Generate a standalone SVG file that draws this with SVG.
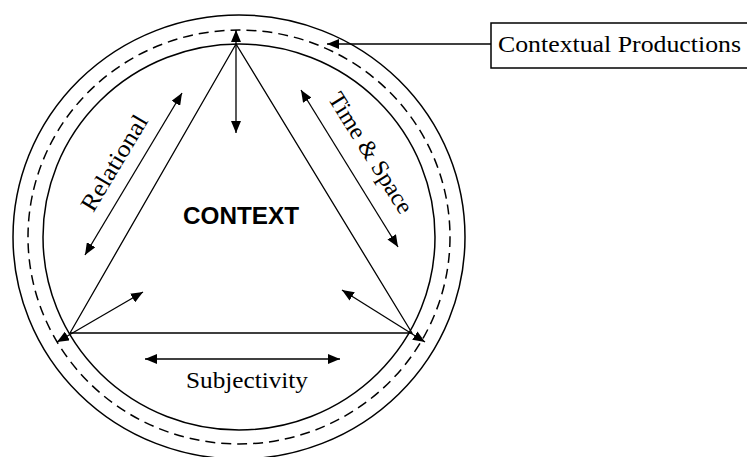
<svg xmlns="http://www.w3.org/2000/svg" width="747" height="457" viewBox="0 0 747 457">
<defs>
<marker id="ah" viewBox="0 0 12 10" refX="12" refY="5" markerWidth="12" markerHeight="10" markerUnits="userSpaceOnUse" orient="auto-start-reverse">
<path d="M0,0 L12,5 L0,10 Z" fill="#000"/>
</marker>
</defs>
<style>
.ring{fill:none;stroke:#000;stroke-width:1.5}
.dash{fill:none;stroke:#000;stroke-width:1.5;stroke-dasharray:10 6}
.ln{fill:none;stroke:#000;stroke-width:1.3}
.ar{fill:none;stroke:#000;stroke-width:1.3;marker-start:url(#ah);marker-end:url(#ah)}
.lbl{font-family:"Liberation Serif","Times New Roman",serif;font-size:24px;fill:#000}
.big{font-family:"Liberation Sans",Arial,sans-serif;font-weight:bold;font-size:23px;fill:#000}
</style>
<rect width="747" height="457" fill="#fff"/>
<g id="rings">
<ellipse class="ring" cx="239" cy="237" rx="226" ry="222"/>
<ellipse class="dash" cx="239" cy="237" rx="211" ry="207"/>
<ellipse class="ring" cx="239" cy="237" rx="196" ry="193"/>
</g>
<g id="triangle">
<polygon class="ln" points="236,44 70,333 412,333"/>
</g>
<g id="connectors">
<line class="ar" x1="236" y1="30" x2="236" y2="133"/>
<line class="ar" x1="57" y1="342" x2="143" y2="292"/>
<line class="ar" x1="425" y1="342" x2="342" y2="290"/>
<line class="ar" x1="85" y1="255" x2="182" y2="93"/>
<line class="ar" x1="301" y1="90" x2="398" y2="247"/>
<line class="ar" x1="145" y1="359" x2="340" y2="359"/>
<line class="ln" x1="491" y1="44" x2="327" y2="44" marker-end="url(#ah)"/>
</g>
<g id="context">
<text class="big" x="241" y="224" text-anchor="middle" textLength="116" lengthAdjust="spacingAndGlyphs">CONTEXT</text>
</g>
<g id="relational">
<text class="lbl" transform="translate(121,167) rotate(-59)" text-anchor="middle" textLength="108" lengthAdjust="spacingAndGlyphs">Relational</text>
</g>
<g id="timespace">
<text class="lbl" transform="translate(364,157) rotate(58)" text-anchor="middle" textLength="138" lengthAdjust="spacingAndGlyphs">Time &amp; Space</text>
</g>
<g id="subjectivity">
<text class="lbl" x="247" y="388" text-anchor="middle" textLength="122" lengthAdjust="spacingAndGlyphs">Subjectivity</text>
</g>
<g id="contextual-productions">
<rect x="491" y="23" width="262" height="45" fill="#fff" stroke="#000" stroke-width="1.5"/>
<text class="lbl" x="498" y="52" textLength="243" lengthAdjust="spacingAndGlyphs">Contextual Productions</text>
</g>
</svg>
